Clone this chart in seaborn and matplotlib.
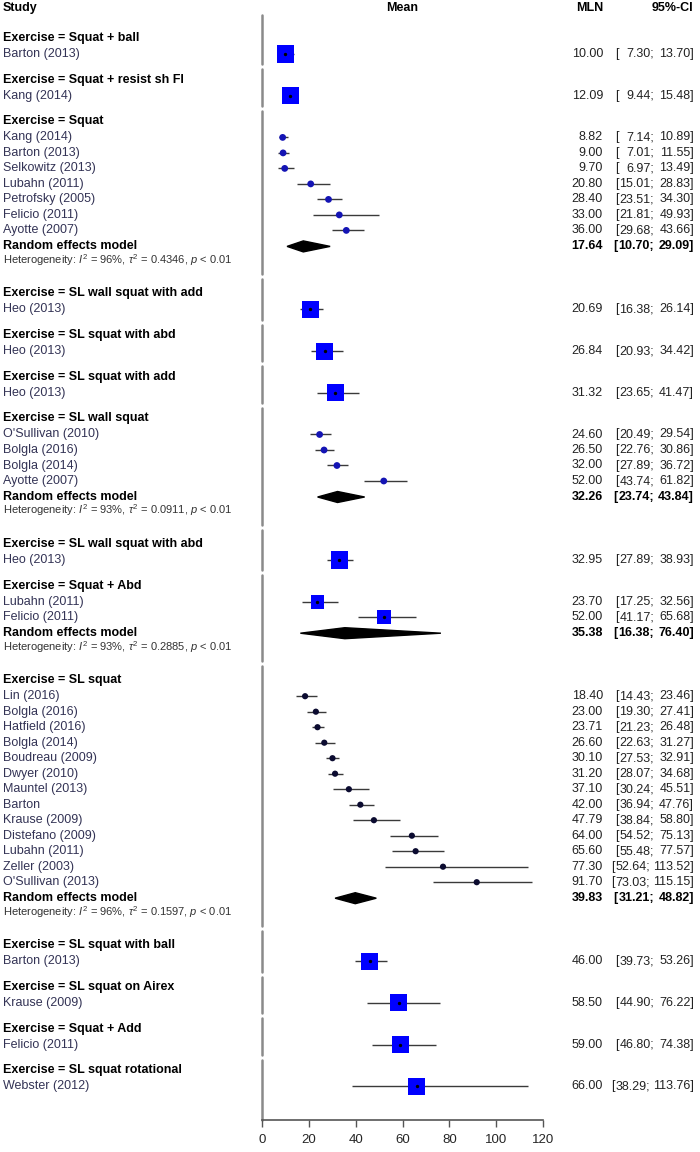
import numpy as np
import pandas as pd
import matplotlib
matplotlib.use("Agg")
import matplotlib.pyplot as plt
import seaborn as sns
from matplotlib import transforms
from matplotlib.patches import Polygon

# ---- data ----
group_names = [
    "Squat + ball", "Squat + resist sh Fl", "Squat", "SL wall squat with add",
    "SL squat with abd", "SL squat with add", "SL wall squat",
    "SL wall squat with abd", "Squat + Abd", "SL squat", "SL squat with ball",
    "SL squat on Airex", "Squat + Add", "SL squat rotational",
]

study_group = [0, 1, 2, 2, 2, 2, 2, 2, 2, 3, 4, 5, 6, 6, 6, 6, 7, 8, 8,
               9, 9, 9, 9, 9, 9, 9, 9, 9, 9, 9, 9, 9, 10, 11, 12, 13]
study_label = [
    "Barton (2013)",
    "Kang (2014)",
    "Kang (2014)", "Barton (2013)", "Selkowitz (2013)", "Lubahn (2011)",
    "Petrofsky (2005)", "Felicio (2011)", "Ayotte (2007)",
    "Heo (2013)",
    "Heo (2013)",
    "Heo (2013)",
    "O'Sullivan (2010)", "Bolgla (2016)", "Bolgla (2014)", "Ayotte (2007)",
    "Heo (2013)",
    "Lubahn (2011)", "Felicio (2011)",
    "Lin (2016)", "Bolgla (2016)", "Hatfield (2016)", "Bolgla (2014)",
    "Boudreau (2009)", "Dwyer (2010)", "Mauntel (2013)", "Barton",
    "Krause (2009)", "Distefano (2009)", "Lubahn (2011)", "Zeller (2003)",
    "O'Sullivan (2013)",
    "Barton (2013)",
    "Krause (2009)",
    "Felicio (2011)",
    "Webster (2012)",
]
study_mln = [10.00, 12.09, 8.82, 9.00, 9.70, 20.80, 28.40, 33.00, 36.00,
             20.69, 26.84, 31.32, 24.60, 26.50, 32.00, 52.00, 32.95,
             23.70, 52.00,
             18.40, 23.00, 23.71, 26.60, 30.10, 31.20, 37.10, 42.00, 47.79,
             64.00, 65.60, 77.30, 91.70,
             46.00, 58.50, 59.00, 66.00]
study_lo = [7.30, 9.44, 7.14, 7.01, 6.97, 15.01, 23.51, 21.81, 29.68,
            16.38, 20.93, 23.65, 20.49, 22.76, 27.89, 43.74, 27.89,
            17.25, 41.17,
            14.43, 19.30, 21.23, 22.63, 27.53, 28.07, 30.24, 36.94, 38.84,
            54.52, 55.48, 52.64, 73.03,
            39.73, 44.90, 46.80, 38.29]
study_hi = [13.70, 15.48, 10.89, 11.55, 13.49, 28.83, 34.30, 49.93, 43.66,
            26.14, 34.42, 41.47, 29.54, 30.86, 36.72, 61.82, 38.93,
            32.56, 65.68,
            23.46, 27.41, 26.48, 31.27, 32.91, 34.68, 45.51, 47.76, 58.80,
            75.13, 77.57, 113.52, 115.15,
            53.26, 76.22, 74.38, 113.76]

pooled_group = [2, 6, 8, 9]
pooled_mln = [17.64, 32.26, 35.38, 39.83]
pooled_lo = [10.70, 23.74, 16.38, 31.21]
pooled_hi = [29.09, 43.84, 76.40, 48.82]
het_i2 = ["96%", "93%", "93%", "96%"]
het_tau2 = ["0.4346", "0.0911", "0.2885", "0.1597"]

# ---- style ----
sns.set_theme(style="white")
plt.rcParams["font.family"] = ["Liberation Sans", "DejaVu Sans"]
plt.rcParams["mathtext.fontset"] = "custom"
plt.rcParams["mathtext.rm"] = "Liberation Sans"
plt.rcParams["mathtext.it"] = "Liberation Sans:italic"

W, H = 700, 1152
AX_BOTTOM = 1120
fig = plt.figure(figsize=(W / 100, H / 100), dpi=100)
ax = fig.add_axes([262 / W, (H - AX_BOTTOM) / H, 281 / W, AX_BOTTOM / H])
ax.set_xlim(0, 120)
ax.set_ylim(AX_BOTTOM, 0)

# ---- row layout (pixel rows from the top) ----
df = pd.DataFrame({"group": study_group, "label": study_label,
                   "mln": study_mln, "lo": study_lo, "hi": study_hi})
counts = df.group.value_counts().to_dict()
head_y, row_y, pool_y, het_y, seg = {}, [], {}, {}, []
y = 38
for g in range(len(group_names)):
    head_y[g] = y
    top = y - 12
    y += 16
    n = counts[g]
    for i in range(n):
        row_y.append(y)
        y += 15.5
    y -= 15.5
    if g in pooled_group:
        y += 16
        pool_y[g] = y
        y += 13.5
        het_y[g] = y
        bottom = y
        y += 33.5
    else:
        bottom = y
        y += 25.7
    seg.append([top, bottom])
df["y"] = row_y
# vertical reference line split into group segments
for i in range(len(seg)):
    t, b = seg[i]
    t = 15 if i == 0 else (seg[i - 1][1] + t + 12) / 2 + 2.5
    b = AX_BOTTOM if i == len(seg) - 1 else (b + head_y[i + 1]) / 2 - 2.5
    ax.plot([0, 0], [t, b], color="#8a8a8a", lw=1.8, zorder=0, clip_on=False)


def kind(g):
    n = counts[g]
    if n == 1:
        return "single"
    if n == 2:
        return "pair"
    if n > 10:
        return "tiny"
    return "small"


df["kind"] = df.group.map(kind)

ax.hlines(df.y, df.lo, df.hi, color="#3a3a3a", lw=1.0, zorder=1)
sns.scatterplot(data=df, x="mln", y="y", hue="kind", size="kind", style="kind",
                palette={"single": "#0000ff", "pair": "#0000ff",
                         "small": "#1414b4", "tiny": "#0b0b30"},
                sizes={"single": 150, "pair": 100, "small": 24, "tiny": 20},
                markers={"single": "s", "pair": "s", "small": "o", "tiny": "o"},
                edgecolor="none", legend=False, ax=ax, zorder=2)
sq = df[df.kind.isin(["single", "pair"])]
ax.scatter(sq.mln, sq.y, s=2, color="black", zorder=3)

for g, m, lo, hi in zip(pooled_group, pooled_mln, pooled_lo, pooled_hi):
    yy = pool_y[g]
    ax.add_patch(Polygon([[lo, yy], [m, yy - 5.5], [hi, yy], [m, yy + 5.5]],
                         closed=True, color="black", zorder=2))

# ---- text columns ----
tr = transforms.blended_transform_factory(fig.transFigure, ax.transData)
FS = 9


def txt(x, yy, s, ha="left", bold=False, size=FS, color="#222222"):
    ax.text(x / W, yy, s, transform=tr, ha=ha, va="center", fontsize=size,
            fontweight="bold" if bold else "normal", color=color, clip_on=False)


txt(3, 8, "Study", bold=True, color="black")
txt(402, 8, "Mean", ha="center", bold=True, color="black")
txt(603, 8, "MLN", ha="right", bold=True, color="black")
txt(693, 8, "95%-CI", ha="right", bold=True, color="black")

for g, name in enumerate(group_names):
    txt(3, head_y[g], "Exercise = " + name, bold=True, color="black")

for r in df.itertuples():
    shift = 4 if r.hi >= 100 else 0
    txt(3, r.y, r.label, color="#333355")
    txt(603, r.y, f"{r.mln:.2f}", ha="right")
    txt(615 - shift, r.y, "[")
    txt(654 - shift, r.y, f"{r.lo:.2f};", ha="right")
    txt(694, r.y, f"{r.hi:.2f}]", ha="right")

for i, g in enumerate(pooled_group):
    yy = pool_y[g]
    txt(3, yy, "Random effects model", bold=True, color="black")
    txt(603, yy, f"{pooled_mln[i]:.2f}", ha="right", bold=True, color="black")
    txt(613, yy, "[", bold=True, color="black")
    txt(654, yy, f"{pooled_lo[i]:.2f};", ha="right", bold=True, color="black")
    txt(694, yy, f"{pooled_hi[i]:.2f}]", ha="right", bold=True, color="black")
    txt(3, het_y[g], r"Heterogeneity: $I^2$ = " + het_i2[i] + r", $\tau^2$ = "
        + het_tau2[i] + r", $p$ < 0.01", size=8, color="#333333")

# ---- axis ----
for s in ["left", "top", "right"]:
    ax.spines[s].set_visible(False)
ax.spines["bottom"].set_color("#555555")
ax.spines["bottom"].set_linewidth(1.2)
ax.set_xticks(np.arange(0, 121, 20))
ax.set_yticks([])
ax.tick_params(axis="x", direction="out", length=5, width=1, color="#555555",
               labelsize=9.5, pad=5, bottom=True)
ax.set_xlabel("")
ax.set_ylabel("")

fig.savefig("out.png", dpi=100)
